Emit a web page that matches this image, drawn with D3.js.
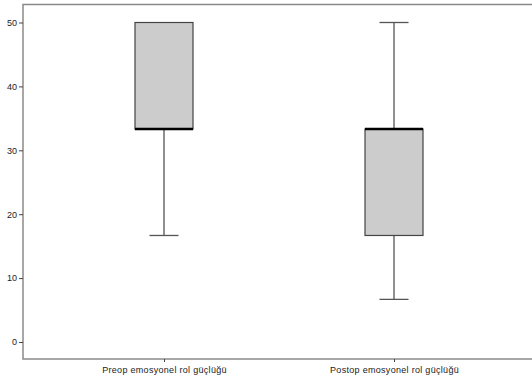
<!DOCTYPE html>
<html>
<head>
<meta charset="utf-8">
<script src="https://cdn.jsdelivr.net/npm/d3@7"></script>
<style>
  body { margin: 0; background: #fff; }
  svg { display: block; font-family: "Liberation Sans", Arial, sans-serif; }
</style>
</head>
<body>
<div id="chart"></div>
<script>
// box plot values
const categories = ["Preop emosyonel rol güçlüğü", "Postop emosyonel rol güçlüğü"];
const mins = [16.67, 6.67];
const q1s = [33.33, 16.67];
const medians = [33.33, 33.33];
const q3s = [50, 33.33];
const maxs = [50, 50];
const yTicks = [0, 10, 20, 30, 40, 50];

const width = 532;
const height = 381;
const frame = { left: 23, top: 4.5, bottom: 359, right: 540 };

const boxes = categories.map((c, i) => ({
  cat: c, min: mins[i], q1: q1s[i], median: medians[i], q3: q3s[i], max: maxs[i]
}));

const svg = d3.select("#chart").append("svg")
  .attr("width", width)
  .attr("height", height);

const xScale = d3.scalePoint()
  .domain(categories)
  .range([frame.left, 535])
  .padding(0.613);

const yScale = d3.scaleLinear()
  .domain([0, 50])
  .range([342, 22.5]);

const boxW = 58;
const capW = 29;

// frame (no right edge visible)
svg.append("path")
  .attr("d", `M${frame.right},${frame.top}H${frame.left}V${frame.bottom}H${frame.right}`)
  .attr("fill", "none")
  .attr("stroke", "#8a8a8a")
  .attr("stroke-width", 1.5);

// y axis
const yAxis = svg.append("g")
  .attr("transform", `translate(${frame.left},0)`)
  .call(d3.axisLeft(yScale).tickValues(yTicks).tickSize(4).tickPadding(2));
yAxis.select(".domain").remove();
yAxis.selectAll(".tick line").attr("stroke", "#444");
yAxis.selectAll("text")
  .attr("font-size", "9px")
  .attr("font-family", "'Liberation Sans', Arial, sans-serif")
  .attr("fill", "#222");

// x axis
const xAxis = svg.append("g")
  .attr("transform", `translate(0,${frame.bottom})`)
  .call(d3.axisBottom(xScale).tickSize(3).tickPadding(5));
xAxis.select(".domain").remove();
xAxis.selectAll(".tick line").attr("stroke", "#444");
xAxis.selectAll("text")
  .attr("font-size", "9px")
  .attr("letter-spacing", "0.3px")
  .attr("font-family", "'Liberation Sans', Arial, sans-serif")
  .attr("fill", "#222");

const g = svg.append("g").attr("class", "boxes");

boxes.forEach((d) => {
  const cx = xScale(d.cat);
  // whiskers
  if (d.max > d.q3) {
    g.append("line")
      .attr("x1", cx).attr("x2", cx)
      .attr("y1", yScale(d.q3)).attr("y2", yScale(d.max))
      .attr("stroke", "#555").attr("stroke-width", 1.3);
    g.append("line")
      .attr("x1", cx - capW / 2).attr("x2", cx + capW / 2)
      .attr("y1", yScale(d.max)).attr("y2", yScale(d.max))
      .attr("stroke", "#555").attr("stroke-width", 1.3);
  }
  if (d.min < d.q1) {
    g.append("line")
      .attr("x1", cx).attr("x2", cx)
      .attr("y1", yScale(d.q1)).attr("y2", yScale(d.min))
      .attr("stroke", "#555").attr("stroke-width", 1.3);
    g.append("line")
      .attr("x1", cx - capW / 2).attr("x2", cx + capW / 2)
      .attr("y1", yScale(d.min)).attr("y2", yScale(d.min))
      .attr("stroke", "#555").attr("stroke-width", 1.3);
  }
  // box
  g.append("rect")
    .attr("x", cx - boxW / 2)
    .attr("y", yScale(d.q3))
    .attr("width", boxW)
    .attr("height", yScale(d.q1) - yScale(d.q3))
    .attr("fill", "#cccccc")
    .attr("stroke", "#444")
    .attr("stroke-width", 1.2);
  // median
  g.append("line")
    .attr("x1", cx - boxW / 2).attr("x2", cx + boxW / 2)
    .attr("y1", yScale(d.median)).attr("y2", yScale(d.median))
    .attr("stroke", "#000").attr("stroke-width", 2.5);
});
</script>
</body>
</html>
